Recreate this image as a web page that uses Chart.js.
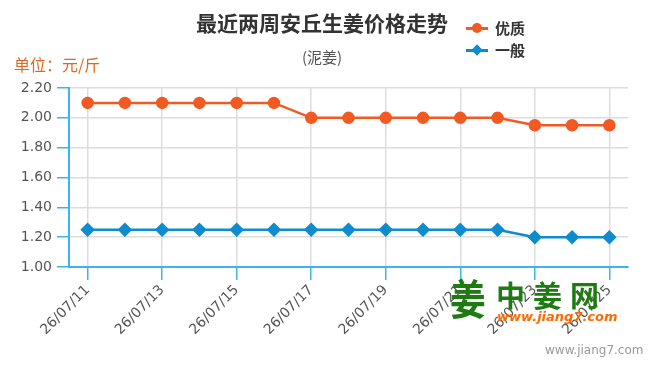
<!DOCTYPE html>
<html>
<head>
<meta charset="utf-8">
<script src="https://cdn.jsdelivr.net/npm/chart.js@4/dist/chart.umd.min.js"></script>
<style>
  body { margin: 0; background: #fff; }
  #wrap { position: relative; width: 650px; height: 365px; overflow: hidden; font-family: 'Noto Sans CJK SC', 'DejaVu Sans', sans-serif; }
  #lineChart { position: absolute; left: 0; top: 0; }
  .txt { position: absolute; white-space: nowrap; }
  #title { left: 0; width: 644px; top: 9px; text-align: center; font-size: 21px; font-weight: bold; color: #333; line-height: 26px; }
  #sub { left: 0; width: 644px; top: 47px; text-align: center; font-size: 15px; color: #555; line-height: 20px; }
  #unit { left: 14px; top: 53px; font-size: 16px; color: #e0671f; line-height: 22px; }
  .leg { left: 466px; font-size: 15px; font-weight: bold; color: #333; line-height: 20px; }
  .leg span.ln { display: inline-block; position: relative; width: 22px; height: 3px; vertical-align: middle; margin-right: 7px; margin-top: -3px; }
  .leg span.mk { position: absolute; left: 6px; top: -4px; width: 10px; height: 10px; }
  #logo1 { left: 450px; top: 272px; font-size: 42px; font-weight: bold; color: #1e7b12; transform: scaleX(0.85); transform-origin: left top; line-height: 50px; }
  #logo2 { left: 496px; top: 276px; font-size: 29px; font-weight: bold; color: #1e7b12; letter-spacing: 8px; line-height: 36px; }
  #logo3 { left: 497px; top: 309px; font-size: 13px; font-weight: bold; font-style: italic; color: #ff6a00; font-family: 'DejaVu Sans', sans-serif; line-height: 16px; }
  #site { left: 545px; top: 342px; font-size: 12px; color: #999; font-family: 'DejaVu Sans', sans-serif; line-height: 16px; }
</style>
</head>
<body>
<div id="wrap">
  <canvas id="lineChart" width="650" height="365"></canvas>
  <div class="txt" id="title">最近两周安丘生姜价格走势</div>
  <div class="txt" id="sub">(泥姜)</div>
  <div class="txt" id="unit">单位：元/斤</div>
  <div class="txt leg" style="top:18px"><span class="ln" style="background:#f15a22"><span class="mk" style="background:#f15a22;border-radius:50%"></span></span>优质</div>
  <div class="txt leg" style="top:40px"><span class="ln" style="background:#0f8ccd"><span class="mk" style="background:#0f8ccd;transform:rotate(45deg) scale(0.8)"></span></span>一般</div>
  <div class="txt" id="logo1">姜</div>
  <div class="txt" id="logo2">中姜网</div>
  <div class="txt" id="logo3">www.jiang7.com</div>
  <div class="txt" id="site">www.jiang7.com</div>
</div>
<script>
const dates = ['26/07/11', '26/07/12', '26/07/13', '26/07/14', '26/07/15', '26/07/16', '26/07/17', '26/07/18',
    '26/07/19', '26/07/20', '26/07/21', '26/07/22', '26/07/23', '26/07/24', '26/07/25'];
const premium = [2.10, 2.10, 2.10, 2.10, 2.10, 2.10, 2.00, 2.00, 2.00, 2.00, 2.00, 2.00, 1.95, 1.95, 1.95];
const normal = [1.25, 1.25, 1.25, 1.25, 1.25, 1.25, 1.25, 1.25, 1.25, 1.25, 1.25, 1.25, 1.20, 1.20, 1.20];
const yMin = 1.00, yMax = 2.20, yStep = 0.20;

const ORANGE = '#f15a22';
const BLUE = '#0f8ccd';
const AXIS = '#3db5e6';
const GRID = '#dddddd';

Chart.defaults.font.family = "'DejaVu Sans', sans-serif";
Chart.defaults.font.size = 14;
Chart.defaults.color = '#555';

const CHART = document.getElementById('lineChart');
let lineChart = new Chart(CHART, {
    type: 'line',
    data: {
        labels: dates,
        datasets: [{
            label: '优质',
            data: premium,
            borderColor: ORANGE,
            backgroundColor: ORANGE,
            borderWidth: 2.5,
            pointStyle: 'circle',
            pointRadius: 5,
            pointHoverRadius: 5,
            tension: 0
        }, {
            label: '一般',
            data: normal,
            borderColor: BLUE,
            backgroundColor: BLUE,
            borderWidth: 2.5,
            pointStyle: 'rectRot',
            pointRadius: 5.5,
            pointHoverRadius: 5.5,
            tension: 0
        }]
    },
    options: {
        responsive: false,
        animation: false,
        devicePixelRatio: 1,
        layout: { padding: { top: 88, right: 22, left: 0, bottom: 0 } },
        plugins: {
            legend: { display: false },
            tooltip: { enabled: false }
        },
        scales: {
            x: {
                offset: true,
                grid: {
                    offset: false,
                    color: ctx => ctx.index % 2 === 0 ? GRID : 'rgba(0,0,0,0)',
                    tickColor: ctx => ctx.index % 2 === 0 ? AXIS : 'rgba(0,0,0,0)',
                    tickLength: 13,
                    lineWidth: 1.5
                },
                border: { color: AXIS, width: 2 },
                ticks: {
                    autoSkip: false,
                    maxRotation: 45,
                    minRotation: 45,
                    padding: 2,
                    font: { size: 14 },
                    color: '#555',
                    callback: function (v, i) { return i % 2 === 0 ? this.getLabelForValue(v) : ''; }
                },
                afterFit: s => { s.height = 98; }
            },
            y: {
                min: yMin,
                max: yMax,
                grid: { color: GRID, tickColor: AXIS, tickLength: 12, lineWidth: 1.5 },
                border: { color: AXIS, width: 2 },
                ticks: {
                    stepSize: yStep,
                    padding: 5,
                    color: '#555',
                    font: { size: 14 },
                    callback: v => v.toFixed(2)
                },
                afterFit: s => { s.width = 69; }
            }
        }
    }
});
</script>
</body>
</html>
